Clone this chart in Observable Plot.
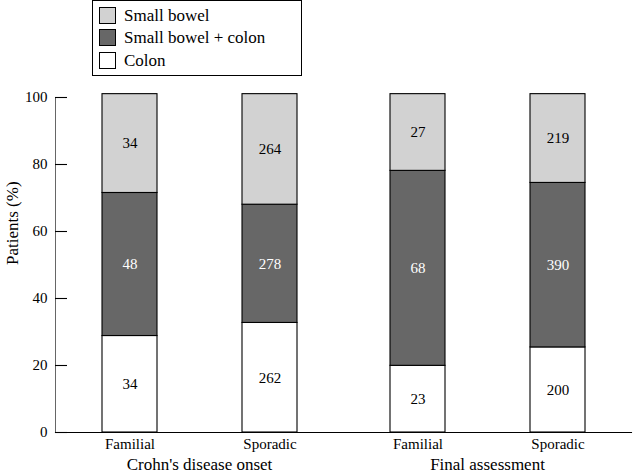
<!DOCTYPE html>
<html>
<head>
<meta charset="utf-8">
<script src="https://cdn.jsdelivr.net/npm/d3@7"></script>
<script src="https://cdn.jsdelivr.net/npm/@observablehq/plot@0.6"></script>
<style>
  html, body { margin: 0; padding: 0; background: #fff; }
  #wrap { position: relative; width: 640px; height: 475px; font-family: "Liberation Serif", "Times New Roman", serif; }
  #wrap svg text { font-family: "Liberation Serif", "Times New Roman", serif; }
  #legend { position: absolute; left: 92px; top: 0; width: 210px; height: 76px; border: 1px solid #000; background: #fff; box-sizing: border-box; }
  .item { position: absolute; left: 6px; height: 17px; display: flex; align-items: center; }
  .sw { width: 17px; height: 17px; box-sizing: border-box; border: 1px solid #000; }
  .lab { margin-left: 8px; font-size: 17px; line-height: 17px; color: #000; white-space: nowrap; }
</style>
</head>
<body>
<div id="wrap"></div>
<script>
// Categories
const groups = ["Crohn's disease onset", "Final assessment"];
const subgroups = ["Familial", "Sporadic"];
const segments = ["Colon", "Small bowel + colon", "Small bowel"];
const segmentColors = ["#ffffff", "#676767", "#d2d2d2"];
const legendOrder = ["Small bowel", "Small bowel + colon", "Colon"];

// Bar order: onset-Familial, onset-Sporadic, final-Familial, final-Sporadic
// Segment heights in percent
const colonPct   = [28.8, 32.7, 19.9, 25.4];
const sbColonPct = [42.7, 35.3, 58.2, 49.1];
const sbPct      = [29.5, 33.0, 22.9, 26.5];
// Patient counts printed in the segments
const colonN   = [34, 262, 23, 200];
const sbColonN = [48, 278, 68, 390];
const sbN      = [34, 264, 27, 219];

const yTicks = [0, 20, 40, 60, 80, 100];

const pctBySeg = {"Colon": colonPct, "Small bowel + colon": sbColonPct, "Small bowel": sbPct};
const nBySeg = {"Colon": colonN, "Small bowel + colon": sbColonN, "Small bowel": sbN};

const rows = [];
for (let i = 0; i < 4; i++) {
  for (const s of segments) {
    rows.push({
      group: groups[Math.floor(i / 2)],
      sub: subgroups[i % 2],
      segment: s,
      pct: pctBySeg[s][i],
      n: nBySeg[s][i]
    });
  }
}

const dark = "Small bowel + colon";
const firstFacet = (arr) => arr.map(v => ({v, g: groups[0]}));

const chart = Plot.plot({
  width: 640,
  height: 475,
  marginLeft: 54,
  marginRight: 9,
  marginTop: 97,
  marginBottom: 43,
  style: {fontFamily: "'Liberation Serif', 'Times New Roman', serif", fontSize: "15px", background: "#fff", color: "#000"},
  fx: {domain: groups, padding: 0, label: null},
  x: {domain: subgroups, paddingInner: 0.6085, paddingOuter: 0.331, label: null},
  y: {domain: [0, 100], label: null},
  color: {domain: segments, range: segmentColors},
  marks: [
    Plot.barY(rows, Plot.stackY({
      fx: "group", x: "sub", y: "pct", fill: "segment", z: "segment",
      order: segments, stroke: "#000", strokeWidth: 1.1
    })),
    Plot.text(rows, Plot.stackY({
      fx: "group", x: "sub", y: "pct", z: "segment", order: segments,
      text: d => d.segment === dark ? null : String(d.n), fill: "#000", fontSize: 15
    })),
    Plot.text(rows, Plot.stackY({
      fx: "group", x: "sub", y: "pct", z: "segment", order: segments,
      text: d => d.segment === dark ? String(d.n) : null, fill: "#fff", fontSize: 15
    })),
    // y axis line (first facet only): a thin rect along the left edge of the frame
    Plot.rect(firstFacet([0]), {fx: "g", y1: 0, y2: 100, insetRight: 287.4, fill: "#000"}),
    // inward y tick marks (first facet only)
    Plot.ruleY(firstFacet(yTicks), {fx: "g", y: "v", insetRight: 276, stroke: "#000", strokeWidth: 1.1}),
    // x axis baseline
    Plot.frame({anchor: "bottom", stroke: "#000", strokeWidth: 1.1}),
    Plot.axisY({ticks: yTicks, tickSize: 0, tickPadding: 8, fontSize: 15, label: null}),
    Plot.axisX({tickSize: 0, tickPadding: 6, fontSize: 15, label: null}),
    Plot.axisFx({anchor: "bottom", tickSize: 0, tickPadding: 25, fontSize: 17, label: null}),
    Plot.text([{t: "Patients (%)", g: groups[0]}], {
      fx: "g", text: "t", frameAnchor: "left", dx: -43, rotate: -90, fontSize: 17, fill: "#000"
    })
  ]
});

const wrap = document.getElementById("wrap");
wrap.appendChild(chart);

const legend = document.createElement("div");
legend.id = "legend";
const tops = [6, 28, 51];
legendOrder.forEach((s, i) => {
  const item = document.createElement("div");
  item.className = "item";
  item.style.top = tops[i] + "px";
  const sw = document.createElement("div");
  sw.className = "sw";
  sw.style.background = segmentColors[segments.indexOf(s)];
  const lab = document.createElement("span");
  lab.className = "lab";
  lab.textContent = s;
  item.appendChild(sw);
  item.appendChild(lab);
  legend.appendChild(item);
});
wrap.appendChild(legend);
</script>
</body>
</html>
